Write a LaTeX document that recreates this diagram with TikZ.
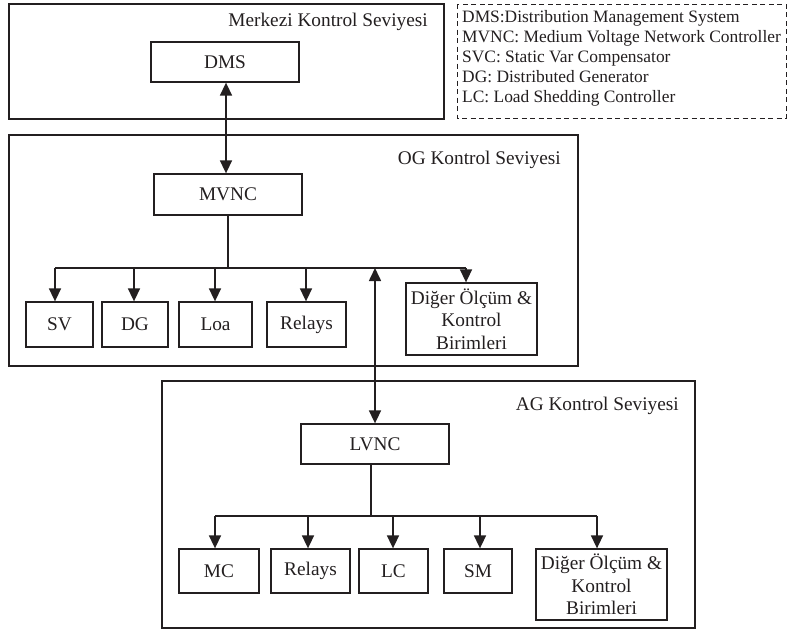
\documentclass[tikz,border=0pt]{standalone}
\usepackage{fontspec}
\setmainfont{Liberation Serif}
\usetikzlibrary{arrows.meta}
\definecolor{ink}{HTML}{231F20}
\begin{document}
\begin{tikzpicture}[x=1pt,y=-1pt,
  box/.style={draw=ink, line width=1.3pt, inner sep=0pt, align=center,
    font=\fontsize{19.3}{22.5}\selectfont, text=ink},
  frame/.style={draw=ink, line width=1.3pt},
  lbl/.style={inner sep=0pt, font=\fontsize{19.3}{22.5}\selectfont, text=ink},
  leg/.style={inner sep=0pt, anchor=base west, font=\fontsize{17.4}{18}\selectfont, text=ink},
  ln/.style={draw=ink, line width=1.6pt},
  arr/.style={ln, -{Triangle[length=13pt,width=12pt]}},
  darr/.style={ln, {Triangle[length=13pt,width=12pt]}-{Triangle[length=13pt,width=12pt]}}
]
\useasboundingbox (0,0) rectangle (787,632);
\fill[white] (0,0) rectangle (787,632);

% level frames
\draw[frame] (9,4) rectangle (444,119);
\draw[frame] (9,135) rectangle (578,366);
\draw[frame] (162,381) rectangle (695,628);
\node[lbl, anchor=base east] (t1) at (428,26) {Merkezi Kontrol Seviyesi};
\node[lbl, anchor=base east] (t2) at (561,164) {OG Kontrol Seviyesi};
\node[lbl, anchor=base east] (t3) at (679,410) {AG Kontrol Seviyesi};

% legend
\draw[ink, line width=1pt, dash pattern=on 5pt off 3.5pt] (457,4) rectangle (786,118);
\node[leg] (l1) at (462,22) {DMS:Distribution Management System};
\node[leg] (l2) at (462,42) {MVNC: Medium Voltage Network Controller};
\node[leg] (l3) at (462,62) {SVC: Static Var Compensator};
\node[leg] (l4) at (462,82) {DG: Distributed Generator};
\node[leg] (l5) at (462,102) {LC: Load Shedding Controller};

% boxes
\node[box, minimum width=148pt, minimum height=40pt] (dms) at (225,62) {DMS};
\node[box, minimum width=148pt, minimum height=41pt] (mvnc) at (228,194.5) {MVNC};
\node[box, minimum width=67pt, minimum height=45pt] (sv) at (59.5,324.5) {SV};
\node[box, minimum width=66pt, minimum height=45pt] (dg) at (135,324.5) {DG};
\node[box, minimum width=73pt, minimum height=45pt] (loa) at (215.5,324.5) {Loa};
\node[box, minimum width=79pt, minimum height=45pt] (rel1) at (306.5,324.5) {Relays};
\node[box, minimum width=131pt, minimum height=72pt] (dig1) at (471.5,319) {Diğer Ölçüm \&\\Kontrol\\Birimleri};

\node[box, minimum width=148pt, minimum height=40pt] (lvnc) at (375,444) {LVNC};
\node[box, minimum width=80pt, minimum height=44pt] (mc) at (219,571) {MC};
\node[box, minimum width=79pt, minimum height=44pt] (rel2) at (310.5,571) {Relays};
\node[box, minimum width=69pt, minimum height=44pt] (lc) at (393.5,571) {LC};
\node[box, minimum width=68pt, minimum height=44pt] (sm) at (478,571) {SM};
\node[box, minimum width=131pt, minimum height=71pt] (dig2) at (601.5,584.5) {Diğer Ölçüm \&\\Kontrol\\Birimleri};

% DMS <-> MVNC
\draw[darr] ([xshift=1pt]dms.south) -- ([xshift=-2pt]mvnc.north);

% OG bus
\coordinate (ogc) at (228,268);
\coordinate (og1) at (55,268);
\coordinate (og2) at (134,268);
\coordinate (og3) at (215,268);
\coordinate (og4) at (306,268);
\coordinate (ogu) at (375,268);
\coordinate (og5) at (466,268);
\draw[ln] (mvnc.south) -- (ogc);
\draw[ln] (og1) -- (og5);
\draw[arr] (og1) -- (og1 |- sv.north);
\draw[arr] (og2) -- (og2 |- dg.north);
\draw[arr] (og3) -- (og3 |- loa.north);
\draw[arr] (og4) -- (og4 |- rel1.north);
\draw[arr] (og5) -- (og5 |- dig1.north);

% OG <-> LVNC
\draw[darr] (ogu) -- (lvnc.north);

% AG bus
\coordinate (agc) at (371,516);
\coordinate (ag1) at (215,516);
\coordinate (ag2) at (308,516);
\coordinate (ag3) at (393,516);
\coordinate (ag4) at (480,516);
\coordinate (ag5) at (597,516);
\draw[ln] ([xshift=-4pt]lvnc.south) -- (agc);
\draw[ln] (ag1) -- (ag5);
\draw[arr] (ag1) -- (ag1 |- mc.north);
\draw[arr] (ag2) -- (ag2 |- rel2.north);
\draw[arr] (ag3) -- (ag3 |- lc.north);
\draw[arr] (ag4) -- (ag4 |- sm.north);
\draw[arr] (ag5) -- (ag5 |- dig2.north);
\end{tikzpicture}
\end{document}
